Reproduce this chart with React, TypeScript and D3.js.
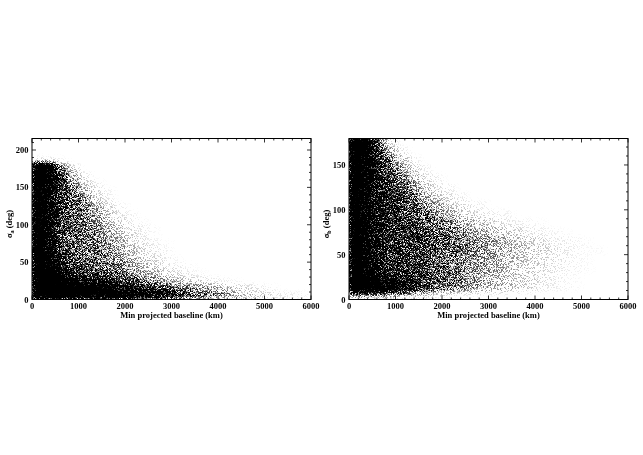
import React from "react";
import * as d3 from "d3";

// density, 0 = empty, 9 = solid black.
// one value per 250 km bin starting at 0, trailing bins are empty
const xBinWidth = 250;
const xTicks = [0, 1000, 2000, 3000, 4000, 5000, 6000];

const leftRowEdges = [0, 3, 10, 20, 30, 40, 50, 60, 70, 80, 90, 100, 110, 120, 130, 140, 150, 160, 170, 180, 183, 190];
const leftRows = [
  [7, 7, 7, 6, 6, 5, 5, 4, 4, 3, 3, 2, 2, 1, 1, 0.5],
  [9, 9, 9, 9, 9, 9, 9, 9, 8.5, 8, 7.5, 6.5, 5.5, 5, 4, 3.5, 3, 2, 1.4, 1, 0.7, 0.4, 0.3, 0.2],
  [9, 9, 9, 9, 9, 8.5, 8, 7, 6.5, 5.5, 5, 4, 3.5, 3, 2.5, 2, 1.5, 1, 0.7, 0.4, 0.2],
  [9, 9, 8.5, 7.5, 6.5, 6, 5.5, 5, 4, 3, 2.5, 2, 1.5, 1, 0.7, 0.4, 0.2, 0.1],
  [9, 8.5, 7, 5.5, 5, 4.5, 4, 3.5, 3, 2, 1.5, 1, 0.6, 0.3, 0.1],
  [9, 8, 6, 4.5, 4, 3.5, 3.2, 3, 2.2, 1.5, 1, 0.5, 0.3, 0.1],
  [9, 7.5, 5.5, 4.2, 3.7, 3.4, 3, 2.5, 1.8, 1, 0.7, 0.3, 0.1],
  [9, 7, 5, 4, 3.5, 3.2, 3, 2.2, 1.5, 0.8, 0.4, 0.2],
  [9, 7, 4.5, 3.8, 3.4, 3, 2.5, 2, 1, 0.6, 0.3, 0.1],
  [9, 7, 4.5, 3.8, 3.4, 3, 2.2, 1.6, 0.8, 0.4, 0.1],
  [9, 7, 4.5, 3.8, 3.4, 3, 2, 1.2, 0.6, 0.3, 0.1],
  [9, 7, 4.5, 3.8, 3.4, 2.5, 1.6, 0.8, 0.3, 0.1],
  [9, 7, 5, 3.8, 3.2, 2.5, 1.2, 0.5, 0.2],
  [9, 7, 5, 3.8, 3.2, 2, 0.8, 0.3],
  [9, 7, 5, 3.8, 3, 1, 0.4],
  [9, 7, 5, 3.6, 2, 0.7, 0.2],
  [9, 7.5, 5, 3, 1, 0.3],
  [9, 8, 4.5, 2, 0.5],
  [9, 8, 3.5, 1],
  [9, 7, 1],
  [0.6, 0.5, 0.2],
];

const rightRowEdges = [0, 5, 10, 20, 30, 40, 50, 60, 70, 80, 90, 100, 110, 120, 130, 140, 150, 160, 170, 180];
const rightRows = [
  [0.5, 0.5, 0.4, 0.3, 0.2, 0.2, 0.1, 0.1],
  [6, 6.5, 5.5, 4.5, 3.5, 2.5, 1.8, 1.2, 0.8, 0.5, 0.4, 0.3, 0.3, 0.2, 0.1, 0.1],
  [9, 9, 8.5, 7.5, 7, 6, 5, 4, 3.5, 3, 2.5, 2, 1.7, 1.4, 1.1, 0.8, 0.5, 0.3, 0.2, 0.1],
  [9, 8.5, 7, 6, 5.5, 5, 4.5, 4, 3.5, 3, 2.5, 2, 1.7, 1.4, 1.1, 0.9, 0.6, 0.4, 0.2, 0.1],
  [9, 7.5, 6, 5.2, 5, 4.8, 4.5, 4, 3.5, 3, 2.5, 2.2, 1.9, 1.6, 1.2, 0.9, 0.7, 0.5, 0.3, 0.2, 0.1],
  [9, 7.5, 6, 5.2, 5, 4.8, 4.5, 4, 3.5, 3, 2.7, 2.4, 2, 1.6, 1.3, 1, 0.8, 0.6, 0.4, 0.2, 0.1],
  [9, 7.5, 6, 5.2, 5, 4.8, 4.5, 4, 3.7, 3.3, 3, 2.6, 2.2, 1.8, 1.5, 1.2, 0.9, 0.6, 0.4, 0.2, 0.1, 0.1],
  [9, 7.5, 6, 5.2, 5, 4.8, 4.5, 4, 3.7, 3.3, 3, 2.6, 2.1, 1.7, 1.3, 1, 0.7, 0.4, 0.3, 0.2, 0.1],
  [9, 7.5, 6, 5.2, 5, 4.8, 4.5, 4, 3.5, 3, 2.4, 1.9, 1.5, 1.1, 0.8, 0.5, 0.3, 0.2, 0.1],
  [9, 7.5, 6, 5.2, 5, 4.8, 4.2, 3.5, 3, 2.2, 1.6, 1.2, 0.8, 0.5, 0.3, 0.2, 0.1],
  [9, 7.5, 6, 5.2, 4.8, 4.3, 3.5, 2.8, 2, 1.3, 0.8, 0.5, 0.3, 0.2],
  [9, 7.5, 6, 5.2, 4.6, 4, 3, 2, 1.2, 0.7, 0.4, 0.2],
  [9, 7.5, 6, 5.2, 4.5, 3.5, 2, 1.2, 0.6, 0.3],
  [9, 7.5, 6, 5, 4.2, 2.8, 1.3, 0.6, 0.3],
  [9, 7.5, 6, 4.6, 3.5, 2, 0.7, 0.3],
  [9, 7.5, 5.5, 4.2, 2.5, 1, 0.3],
  [9, 8, 5.5, 3.5, 1.5, 0.4],
  [9, 8, 5, 2, 0.5],
  [9, 8.5, 4, 0.7],
];

const fontFamily = "'Liberation Serif', serif";

type PanelProps = {
  id: string;
  left: number;
  yMax: number;
  yTicks: number[];
  sub: string;
  edges: number[];
  rows: number[][];
};

const width = 279;
const top = 138.5;
const bottom = 299.5;

const Panel = ({ id, left, yMax, yTicks, sub, edges, rows }: PanelProps) => {
  const x = d3.scaleLinear().domain([0, 6000]).range([left, left + width]);
  const y = d3.scaleLinear().domain([0, yMax]).range([bottom, top]);
  const fill = d3.scaleLinear().domain([0, 9]).range([0, 1]);

  const xMinor = d3.range(0, 6001, 200);
  const yMinor = d3.range(0, yMax + 0.1, 10);

  return (
    <g>
      <clipPath id={`clip-${id}`}>
        <rect x={left} y={top} width={width} height={bottom - top} />
      </clipPath>
      <g clipPath={`url(#clip-${id})`}>
        <g filter="url(#stipple)">
          {rows.map((row, i) =>
            row.map((v, j) => (
              <rect
                key={`${i}-${j}`}
                x={x(j * xBinWidth)}
                y={y(edges[i + 1])}
                width={x(xBinWidth) - x(0) + 0.5}
                height={y(edges[i]) - y(edges[i + 1]) + 0.5}
                fill="#000"
                fillOpacity={fill(v)}
              />
            ))
          )}
        </g>
      </g>

      <rect x={left} y={top} width={width} height={bottom - top} fill="none" stroke="#000" strokeWidth={1} />

      {xMinor.map((t) => {
        const len = t % 1000 === 0 ? 4 : 2;
        return (
          <g key={t} stroke="#000" strokeWidth={0.8}>
            <line x1={x(t)} x2={x(t)} y1={bottom} y2={bottom - len} />
            <line x1={x(t)} x2={x(t)} y1={top} y2={top + len} />
          </g>
        );
      })}
      {yMinor.map((t) => {
        const len = t % 50 === 0 ? 4 : 2;
        return (
          <g key={t} stroke="#000" strokeWidth={0.8}>
            <line x1={left} x2={left + len} y1={y(t)} y2={y(t)} />
            <line x1={left + width} x2={left + width - len} y1={y(t)} y2={y(t)} />
          </g>
        );
      })}

      {/* the opacity keeps the labels on greyscale antialiasing */}
      <g fontFamily={fontFamily} fontWeight="bold" fontSize={8.5} fill="#000" opacity={0.99}>
        {xTicks.map((t) => (
          <text key={t} x={x(t)} y={bottom + 9.5} textAnchor="middle">
            {t}
          </text>
        ))}
        {yTicks.map((t) => (
          <text key={t} x={left - 3.5} y={y(t) + 3} textAnchor="end">
            {t}
          </text>
        ))}
        <text x={left + width / 2} y={bottom + 18} textAnchor="middle">
          Min projected baseline (km)
        </text>
        <text transform={`translate(${left - 20.5},${(top + bottom) / 2 + 5}) rotate(-90)`} textAnchor="middle">
          σ
          <tspan fontSize={6} dy={2}>
            {sub}
          </tspan>
          <tspan dy={-2}> (deg)</tspan>
        </text>
      </g>
    </g>
  );
};

export default function App() {
  return (
    <svg
      width={643}
      height={455}
      viewBox="0 0 643 455"
      style={{ position: "absolute", left: 0, top: 0, background: "#fff" }}
    >
      <defs>
        {/* turns the density cells into a dot texture, like an overplotted scatter */}
        <filter
          id="stipple"
          filterUnits="userSpaceOnUse"
          x={0}
          y={100}
          width={643}
          height={250}
          colorInterpolationFilters="sRGB"
        >
          <feGaussianBlur in="SourceAlpha" stdDeviation="3 2" result="density" />
          <feTurbulence type="fractalNoise" baseFrequency={1.7} numOctaves={2} seed={11} result="turb" />
          <feColorMatrix in="turb" type="matrix" values="0 0 0 0 0  0 0 0 0 0  0 0 0 0 0  0 0 0 3 -0.82" result="noise" />
          <feComposite in="density" in2="noise" operator="arithmetic" k1={0} k2={1.65} k3={1} k4={-1} result="mix" />
          <feComponentTransfer in="mix">
            <feFuncA type="linear" slope={1.6} intercept={0} />
          </feComponentTransfer>
        </filter>
      </defs>
      <Panel
        id="a"
        left={32}
        yMax={215.4}
        yTicks={[0, 50, 100, 150, 200]}
        sub="a"
        edges={leftRowEdges}
        rows={leftRows}
      />
      <Panel
        id="b"
        left={349}
        yMax={179.5}
        yTicks={[0, 50, 100, 150]}
        sub="b"
        edges={rightRowEdges}
        rows={rightRows}
      />
    </svg>
  );
}
